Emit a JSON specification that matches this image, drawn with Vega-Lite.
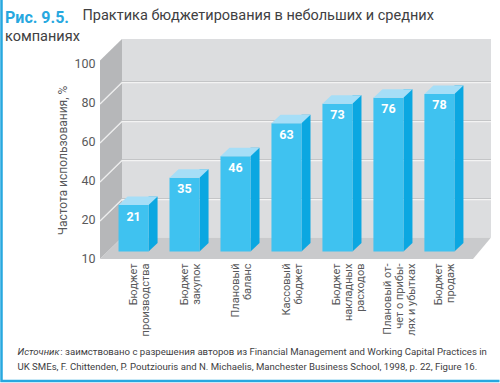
{
  "$schema": "https://vega.github.io/schema/vega-lite/v6.json",
  "width": 391,
  "height": 220,
  "autosize": {"type": "none"},
  "padding": {"left": 100, "top": 39, "right": 9, "bottom": 124},
  "background": "white",
  "config": {"view": {"stroke": null}, "font": "Roboto"},
  "title": {
    "text": "Рис. 9.5.",
    "subtitle": "компаниях",
    "anchor": "start",
    "frame": "group",
    "dx": -95,
    "dy": 49,
    "offset": 0,
    "font": "Roboto",
    "fontSize": 16,
    "fontWeight": "bold",
    "color": "#27a8df",
    "subtitleFont": "Roboto",
    "subtitleFontSize": 14.5,
    "subtitleFontWeight": "normal",
    "subtitleColor": "#404042",
    "subtitlePadding": 4
  },
  "datasets": {
    "bars": [
      {"cat": "Бюджет|производства", "v": 21},
      {"cat": "Бюджет|закупок", "v": 35},
      {"cat": "Плановый|баланс", "v": 46},
      {"cat": "Кассовый|бюджет", "v": 63},
      {"cat": "Бюджет|накладных|расходов", "v": 73},
      {"cat": "Плановый от-|чет о прибы-|лях и убытках", "v": 76},
      {"cat": "Бюджет|продаж", "v": 78}
    ],
    "walls": [
      {"part": "back", "x": 22, "y": 101.82, "y2": 0},
      {"part": "back", "x": 391, "y": 101.82, "y2": 0},
      {"part": "left", "x": 0, "y": 90.82, "y2": -11},
      {"part": "left", "x": 22, "y": 101.82, "y2": 0},
      {"part": "floor", "x": 0, "y": -11, "y2": -11},
      {"part": "floor", "x": 22, "y": 0, "y2": -11},
      {"part": "floor", "x": 373, "y": 0, "y2": -11},
      {"part": "floor", "x": 391, "y": 0, "y2": 0}
    ],
    "grid": [
      {"g": 20, "x": 0, "y": 9}, {"g": 20, "x": 22, "y": 20}, {"g": 20, "x": 391, "y": 20},
      {"g": 40, "x": 0, "y": 29}, {"g": 40, "x": 22, "y": 40}, {"g": 40, "x": 391, "y": 40},
      {"g": 60, "x": 0, "y": 49}, {"g": 60, "x": 22, "y": 60}, {"g": 60, "x": 391, "y": 60},
      {"g": 80, "x": 0, "y": 69}, {"g": 80, "x": 22, "y": 80}, {"g": 80, "x": 391, "y": 80}
    ],
    "frame": [
      {"o": 0, "x": -98.5, "y": 121.82},
      {"o": 1, "x": -98.5, "y": -73.56},
      {"o": 2, "x": 399.5, "y": -73.56}
    ]
  },
  "layer": [
    {
      "layer": [
        {
          "data": {"name": "walls"},
          "mark": {"type": "area", "opacity": 1, "line": false},
          "encoding": {
            "x": {
              "field": "x", "type": "quantitative",
              "scale": {"domain": [0, 391], "nice": false, "zero": false},
              "axis": {
                "orient": "top", "labels": false, "ticks": false, "domain": false, "grid": false,
                "title": "Практика бюджетирования в небольших и средних",
                "titleFont": "Roboto", "titleFontSize": 14.5, "titleFontWeight": "normal", "titleColor": "#404042",
                "titleAlign": "left", "titleBaseline": "alphabetic", "titleX": -18, "titleY": -20
              }
            },
            "y": {
              "field": "y", "type": "quantitative", "stack": null,
              "scale": {"domain": [-11, 101.82], "nice": false, "zero": false},
              "axis": {
                "orient": "right", "labels": false, "ticks": false, "domain": false, "grid": false,
                "title": ["\u200b\u00a0\u00a0\u00a0\u00a0\u00a0\u00a0\u00a0\u00a0\u00a0\u00a0\u00a0\u00a0\u00a0\u00a0\u00a0\u00a0\u00a0\u00a0: заимствовано с разрешения авторов из Financial Management and Working Capital Practices in", "UK SMEs, F. Chittenden, P. Poutziouris and N. Michaelis, Manchester Business School, 1998, p. 22, Figure 16."],
                "titleAngle": 0, "titleAlign": "left", "titleBaseline": "alphabetic", "titleX": -474, "titleY": 315,
                "titleFont": "Roboto", "titleFontSize": 9.6, "titleFontWeight": "normal", "titleColor": "#404042", "titleLineHeight": 15
              }
            },
            "y2": {"field": "y2"},
            "color": {
              "field": "part", "type": "nominal", "legend": null,
              "scale": {"domain": ["back", "left", "floor"], "range": ["#dcdddf", "#b6b7b9", "#c9cacc"]}
            }
          }
        },
        {
          "data": {"name": "grid"},
          "mark": {"type": "line", "color": "#c3c4c6", "strokeWidth": 1},
          "encoding": {
            "x": {"field": "x", "type": "quantitative", "scale": {"domain": [0, 391], "nice": false, "zero": false}},
            "y": {"field": "y", "type": "quantitative", "scale": {"domain": [-11, 101.82], "nice": false, "zero": false}},
            "detail": {"field": "g"}
          }
        },
        {
          "data": {"name": "grid"},
          "mark": {"type": "line", "color": "#f3f3f3", "strokeWidth": 1.2, "yOffset": 1.1},
          "encoding": {
            "x": {"field": "x", "type": "quantitative", "scale": {"domain": [0, 391], "nice": false, "zero": false}},
            "y": {"field": "y", "type": "quantitative", "scale": {"domain": [-11, 101.82], "nice": false, "zero": false}},
            "detail": {"field": "g"}
          }
        },
        {
          "data": {"name": "frame"},
          "mark": {"type": "line", "color": "#27a8df", "strokeWidth": 2.5},
          "encoding": {
            "x": {"field": "x", "type": "quantitative", "scale": {"domain": [0, 391], "nice": false, "zero": false}},
            "y": {"field": "y", "type": "quantitative", "scale": {"domain": [-11, 101.82], "nice": false, "zero": false}},
            "order": {"field": "o"}
          }
        }
      ]
    },
    {
      "data": {"name": "bars"},
      "layer": [
        {
          "mark": {"type": "bar", "width": 9, "xOffset": 10.5, "color": "#0ba7e1"},
          "encoding": {
            "x": {
              "field": "cat", "type": "nominal", "sort": null,
              "scale": {"paddingInner": 0.41, "paddingOuter": 0.54},
              "axis": {
                "orient": "bottom", "labelAngle": -90, "labelExpr": "split(datum.label, '|')",
                "labelOffset": -9, "labelPadding": 4, "ticks": false, "domain": false, "grid": false,
                "labelOverlap": false, "labelFont": "Roboto", "labelFontSize": 11, "labelColor": "#58595b", "labelLineHeight": 12,
                "title": "Источник", "titleFont": "Roboto", "titleFontStyle": "italic", "titleFontWeight": "normal",
                "titleFontSize": 9.6, "titleColor": "#404042", "titleAlign": "left", "titleBaseline": "alphabetic",
                "titleX": -83, "titleY": 95
              }
            },
            "y": {
              "field": "v", "type": "quantitative",
              "scale": {"domain": [-11, 101.82], "nice": false, "zero": false},
              "axis": {
                "orient": "left", "values": [0, 20, 40, 60, 80, 100],
                "labelExpr": "datum.value == 0 ? '10' : datum.label",
                "labelOffset": 21, "labelPadding": 5, "ticks": false, "domain": false, "grid": false,
                "labelFont": "Roboto", "labelFontSize": 12.5, "labelColor": "#58595b",
                "title": "Частота использования, %", "titleFont": "Roboto", "titleFontSize": 12, "titleFontWeight": "normal",
                "titleColor": "#58595b", "titleX": -38, "titleY": 121, "titleBaseline": "middle", "titleAlign": "center"
              }
            },
            "y2": {"datum": -2.8}
          }
        },
        {
          "mark": {"type": "point", "shape": "M 0.6 0 L 1.5 0 L 0.6 0.85 Z", "size": 400, "filled": true, "opacity": 1, "color": "#0ba7e1", "strokeWidth": 0},
          "encoding": {
            "x": {"field": "cat", "type": "nominal", "sort": null},
            "y": {"datum": -2.8}
          }
        },
        {
          "mark": {"type": "bar", "xOffset": -9, "x2Offset": -9, "yOffset": 8.5, "y2Offset": 8.5, "color": "#3fc2f0"},
          "encoding": {
            "x": {"field": "cat", "type": "nominal", "sort": null},
            "y": {"field": "v", "type": "quantitative"},
            "y2": {"datum": -2.8}
          }
        },
        {
          "mark": {"type": "point", "shape": "M -1.5 0 L 1.5 0 L 0.6 0.85 L -2.4 0.85 Z", "size": 400, "filled": true, "opacity": 1, "color": "#a6def7", "strokeWidth": 0},
          "encoding": {
            "x": {"field": "cat", "type": "nominal", "sort": null},
            "y": {"field": "v", "type": "quantitative"}
          }
        },
        {
          "mark": {"type": "text", "xOffset": -9, "yOffset": 20, "color": "white", "fontWeight": "bold", "fontSize": 12.5, "baseline": "middle", "font": "Roboto"},
          "encoding": {
            "x": {"field": "cat", "type": "nominal", "sort": null},
            "y": {"field": "v", "type": "quantitative"},
            "text": {"field": "v", "type": "quantitative"}
          }
        }
      ]
    }
  ],
  "resolve": {
    "scale": {"x": "independent", "y": "independent"},
    "axis": {"x": "independent", "y": "independent"}
  }
}
